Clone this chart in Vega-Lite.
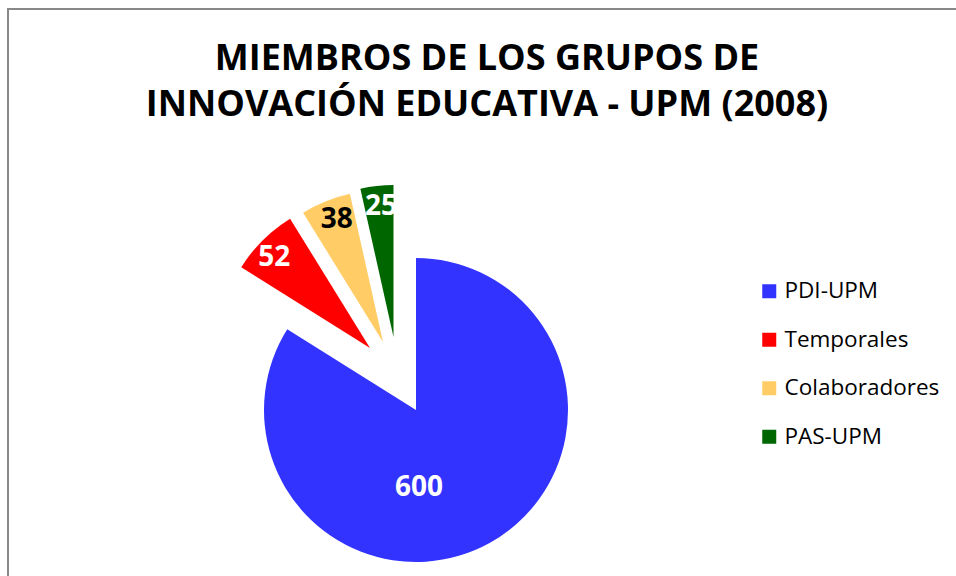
{
  "$schema": "https://vega.github.io/schema/vega-lite/v6.json",
  "width": 952,
  "height": 571,
  "autosize": {"type": "none"},
  "padding": {"left": 8, "top": 9, "right": -4, "bottom": -4},
  "background": "white",
  "view": {"stroke": "#888888", "strokeWidth": 2, "fill": "white"},
  "title": {
    "text": ["MIEMBROS DE LOS GRUPOS DE", "INNOVACIÓN EDUCATIVA - UPM (2008)"],
    "font": "Open Sans",
    "fontSize": 36,
    "fontWeight": "bold",
    "color": "black",
    "lineHeight": 46,
    "anchor": "middle",
    "frame": "group",
    "dx": 3,
    "offset": -115
  },
  "data": {
    "values": [
      {"grupo": "PDI-UPM", "miembros": 600},
      {"grupo": "Temporales", "miembros": 52},
      {"grupo": "Colaboradores", "miembros": 38},
      {"grupo": "PAS-UPM", "miembros": 25}
    ]
  },
  "transform": [
    {"stack": "miembros", "groupby": [], "as": ["v0", "v1"]},
    {"calculate": "(datum.v0 + datum.v1) / 2", "as": "mid"}
  ],
  "layer": [
    {
      "transform": [{"filter": "datum.grupo == 'PDI-UPM'"}],
      "mark": {"type": "arc", "radius": 152, "xOffset": -68, "yOffset": 115.5},
      "encoding": {
        "theta": {"field": "v0", "type": "quantitative", "scale": {"domain": [0, 715], "zero": true, "nice": false}},
        "theta2": {"field": "v1"},
        "color": {
          "field": "grupo",
          "type": "nominal",
          "scale": {
            "domain": ["PDI-UPM", "Temporales", "Colaboradores", "PAS-UPM"],
            "range": ["#3333FF", "#FF0000", "#FFCC66", "#006600"]
          },
          "legend": {
            "title": null,
            "orient": "none",
            "legendX": 750,
            "legendY": 271,
            "padding": 0,
            "symbolType": "square",
            "symbolSize": 196,
            "symbolStrokeWidth": 0,
            "symbolOpacity": 1,
            "labelFont": "Open Sans",
            "labelFontSize": 22.5,
            "labelColor": "black",
            "labelOffset": 4,
            "rowPadding": 25.5
          }
        }
      }
    },
    {
      "transform": [{"filter": "datum.grupo == 'Temporales'"}],
      "mark": {"type": "arc", "radius": 152, "xOffset": -114, "yOffset": 53.5},
      "encoding": {
        "theta": {"field": "v0", "type": "quantitative"},
        "theta2": {"field": "v1"},
        "color": {"field": "grupo", "type": "nominal"}
      }
    },
    {
      "transform": [{"filter": "datum.grupo == 'Colaboradores'"}],
      "mark": {"type": "arc", "radius": 152, "xOffset": -101, "yOffset": 47.5},
      "encoding": {
        "theta": {"field": "v0", "type": "quantitative"},
        "theta2": {"field": "v1"},
        "color": {"field": "grupo", "type": "nominal"}
      }
    },
    {
      "transform": [{"filter": "datum.grupo == 'PAS-UPM'"}],
      "mark": {"type": "arc", "radius": 152, "xOffset": -90.5, "yOffset": 42.5},
      "encoding": {
        "theta": {"field": "v0", "type": "quantitative"},
        "theta2": {"field": "v1"},
        "color": {"field": "grupo", "type": "nominal"}
      }
    },
    {
      "transform": [{"filter": "datum.grupo == 'PDI-UPM'"}],
      "mark": {"type": "text", "xOffset": -65, "yOffset": 193, "font": "Open Sans", "fontSize": 28, "fontWeight": "bold", "color": "white", "align": "center", "baseline": "middle"},
      "encoding": {"text": {"field": "miembros", "type": "quantitative"}}
    },
    {
      "transform": [{"filter": "datum.grupo == 'Temporales'"}],
      "mark": {"type": "text", "radius": 133, "xOffset": -116, "yOffset": 58, "font": "Open Sans", "fontSize": 28, "fontWeight": "bold", "color": "white", "align": "center", "baseline": "middle"},
      "encoding": {
        "theta": {"field": "mid", "type": "quantitative"},
        "text": {"field": "miembros", "type": "quantitative"}
      }
    },
    {
      "transform": [{"filter": "datum.grupo == 'Colaboradores'"}],
      "mark": {"type": "text", "radius": 133, "xOffset": -97, "yOffset": 48.5, "font": "Open Sans", "fontSize": 28, "fontWeight": "bold", "color": "black", "align": "center", "baseline": "middle"},
      "encoding": {
        "theta": {"field": "mid", "type": "quantitative"},
        "text": {"field": "miembros", "type": "quantitative"}
      }
    },
    {
      "transform": [{"filter": "datum.grupo == 'PAS-UPM'"}],
      "mark": {"type": "text", "radius": 133, "xOffset": -88.5, "yOffset": 44.5, "font": "Open Sans", "fontSize": 28, "fontWeight": "bold", "color": "white", "align": "center", "baseline": "middle"},
      "encoding": {
        "theta": {"field": "mid", "type": "quantitative"},
        "text": {"field": "miembros", "type": "quantitative"}
      }
    }
  ],
  "config": {
    "font": "Open Sans"
  }
}
